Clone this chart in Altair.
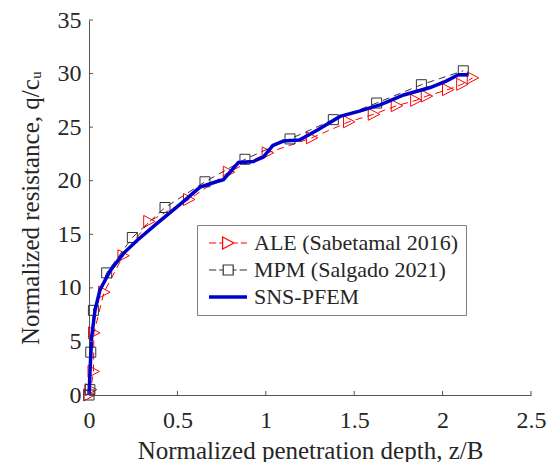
import altair as alt
import pandas as pd

names = ["ALE (Sabetamal 2016)", "MPM (Salgado 2021)", "SNS-PFEM"]

ale_x = [0.0, 0.01, 0.025, 0.028, 0.085, 0.194, 0.34, 0.565, 0.79, 1.01, 1.26, 1.47, 1.61, 1.74, 1.85, 1.91, 2.03, 2.11, 2.17]
ale_y = [0.0, 0.5, 2.2, 5.8, 9.6, 13.0, 16.2, 18.25, 20.8, 22.6, 24.0, 25.5, 26.2, 27.0, 27.5, 27.9, 28.5, 29.0, 29.6]

mpm_x = [0.0, 0.005, 0.01, 0.025, 0.10, 0.245, 0.43, 0.656, 0.882, 1.137, 1.382, 1.627, 1.88, 2.117]
mpm_y = [0.0, 0.5, 4.0, 7.9, 11.4, 14.7, 17.5, 19.9, 22.0, 23.9, 25.7, 27.25, 28.96, 30.26]

sns_x = [0.0, 0.006, 0.015, 0.034, 0.062, 0.12, 0.194, 0.27, 0.383, 0.515, 0.628, 0.72, 0.76, 0.845,
         0.93, 0.986, 1.04, 1.10, 1.19, 1.29, 1.42, 1.53, 1.65, 1.78, 1.93, 2.02, 2.09, 2.145]
sns_y = [0.0, 2.3, 5.4, 7.9, 9.8, 11.6, 13.2, 14.4, 16.0, 17.8, 19.4, 19.9, 20.1, 21.7,
         21.8, 22.2, 23.3, 23.7, 23.8, 24.7, 26.0, 26.5, 27.1, 28.0, 28.7, 29.3, 29.9, 29.9]

x_ticks = [0, 0.5, 1, 1.5, 2, 2.5]
y_ticks = [0, 5, 10, 15, 20, 25, 30, 35]

RED = "#ff0000"
GRAY = "#333333"
BLUE = "#0000cd"
AXIS = "#555555"
TXT = "#262626"
FONT = "Liberation Serif, Times New Roman, DejaVu Serif, serif"
W, H = 442, 375


def frame(xv, yv):
    return pd.DataFrame({"x": xv, "y": yv, "i": list(range(len(xv)))})


ale_df = frame(ale_x, ale_y)
mpm_df = frame(mpm_x, mpm_y)
sns_df = frame(sns_x, sns_y)

xs = alt.Scale(domain=[0, 2.5], nice=False, zero=False)
ys = alt.Scale(domain=[0, 35], nice=False, zero=False)

x_axis = alt.Axis(values=x_ticks, format="~g", title="Normalized penetration depth, z/B",
                  tickSize=0, grid=False, labelFont=FONT, labelFontSize=24, labelColor=TXT,
                  labelPadding=13, labelFlush=False, titleFont=FONT, titleFontSize=25,
                  titleFontWeight="normal", titleColor=TXT, titlePadding=6, domainColor=AXIS)
y_axis = alt.Axis(values=y_ticks, format="~g", title="Normalized resistance, q/cᵤ",
                  tickSize=0, grid=False, labelFont=FONT, labelFontSize=24, labelColor=TXT,
                  labelPadding=8, labelFlush=False, titleFont=FONT, titleFontSize=25,
                  titleFontWeight="normal", titleColor=TXT, titlePadding=14, domainColor=AXIS)

X = alt.X("x:Q", scale=xs, axis=x_axis)
Y = alt.Y("y:Q", scale=ys, axis=y_axis)

tri_path = "M-0.9,-1L1,0L-0.9,1Z"

ale_line = alt.Chart(ale_df).mark_line(color=RED, strokeWidth=1, strokeDash=[7, 5]).encode(x=X, y=Y, order="i:Q")
ale_pts = alt.Chart(ale_df).mark_point(shape=tri_path, size=144, color=RED, filled=False,
                                       strokeWidth=1, opacity=1).encode(x=X, y=Y)
mpm_line = alt.Chart(mpm_df).mark_line(color=GRAY, strokeWidth=1, strokeDash=[7, 5]).encode(x=X, y=Y, order="i:Q")
mpm_pts = alt.Chart(mpm_df).mark_point(shape="square", size=100, color=GRAY, filled=False,
                                       strokeWidth=1, opacity=1).encode(x=X, y=Y)
sns_line = alt.Chart(sns_df).mark_line(color=BLUE, strokeWidth=3.5).encode(x=X, y=Y, order="i:Q")

x_tick_layer = alt.Chart(pd.DataFrame({"t": x_ticks})).mark_rule(color=AXIS, strokeWidth=1).encode(
    x=alt.X("t:Q", scale=xs, axis=x_axis), y=alt.value(H), y2=alt.value(H - 4))
y_tick_layer = alt.Chart(pd.DataFrame({"t": y_ticks})).mark_rule(color=AXIS, strokeWidth=1).encode(
    y=alt.Y("t:Q", scale=ys, axis=y_axis), x=alt.value(0), x2=alt.value(4))

path_ale = ("M-1,0H0.2M0.7,0H1.27M1.27,-1L3.17,0L1.27,1ZM3.17,0H3.8M4.3,0H5.33")
path_mpm = ("M-1,0H0.2M0.7,0H1.37M1.37,-0.83H3.03V0.83H1.37ZM3.03,0H3.6M4.1,0H5.33")
path_sns = "M-1,-0.2H5.33M-1,0H5.33M-1,0.2H5.33"

leg = alt.Legend(orient="none", legendX=108, legendY=205, title=None, labelFont=FONT,
                 labelFontSize=22, labelColor=TXT, labelLimit=0, symbolSize=144, labelOffset=28,
                 padding=7, rowPadding=5, strokeColor="#808080", fillColor="white",
                 symbolStrokeWidth=1.2)

legend_layer = alt.Chart(pd.DataFrame({"series": names})).transform_filter(
    "datum.series == 'none'").mark_point(filled=False, size=144, strokeWidth=1.2, opacity=1).encode(
    color=alt.Color("series:N", scale=alt.Scale(domain=names, range=[RED, GRAY, BLUE]), legend=leg),
    shape=alt.Shape("series:N", scale=alt.Scale(domain=names, range=[path_ale, path_mpm, path_sns]), legend=leg),
)

chart = alt.layer(
    ale_line, ale_pts, mpm_line, mpm_pts, sns_line, x_tick_layer, y_tick_layer, legend_layer
).properties(
    width=W, height=H,
    autosize=alt.AutoSizeParams(type="none"),
    padding={"left": 89, "top": 20, "right": 21, "bottom": 67},
).configure_view(stroke=None)

chart.save("out.html", embed_options={"renderer": "svg", "actions": False})
